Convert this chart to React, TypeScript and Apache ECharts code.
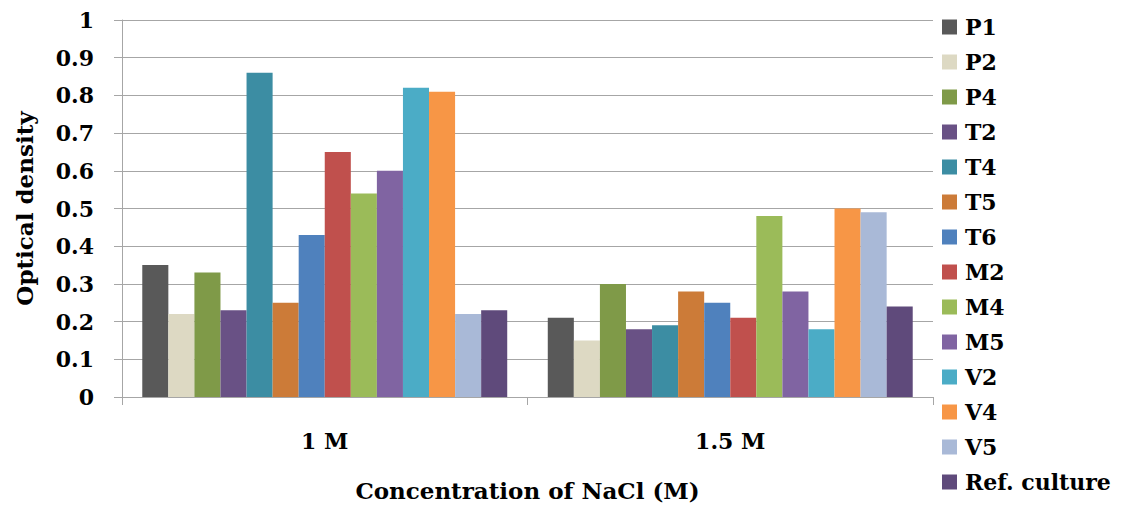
import React, { useEffect, useRef } from "react";
import * as echarts from "echarts";

const categories = ["1 M", "1.5 M"];
const seriesNames = ["P1", "P2", "P4", "T2", "T4", "T5", "T6", "M2", "M4", "M5", "V2", "V4", "V5", "Ref. culture"];
const values1M = [0.35, 0.22, 0.33, 0.23, 0.86, 0.25, 0.43, 0.65, 0.54, 0.6, 0.82, 0.81, 0.22, 0.23];
const values15M = [0.21, 0.15, 0.3, 0.18, 0.19, 0.28, 0.25, 0.21, 0.48, 0.28, 0.18, 0.5, 0.49, 0.24];
const colors = ["#595959", "#DDD9C3", "#7F9A48", "#695185", "#3C8DA3", "#CC7B38", "#4F81BD", "#C0504D", "#9BBB59", "#8064A2", "#4BACC6", "#F79646", "#A9B9D7", "#5F4A7B"];

const FONT = "DejaVu Serif";

export default function App() {
  const ref = useRef<HTMLDivElement>(null);
  useEffect(() => {
    document.body.style.margin = "0";
    const chart = echarts.init(ref.current!, null, { renderer: "svg" });
    chart.setOption({
      animation: false,
      backgroundColor: "#ffffff",
      textStyle: { fontFamily: FONT },
      grid: { left: 122, right: 194, top: 20, bottom: 113 },
      legend: {
        orient: "vertical",
        left: 942,
        top: 16,
        padding: 0,
        itemWidth: 15,
        itemHeight: 15,
        itemGap: 13,
        icon: "rect",
        textStyle: { fontFamily: FONT, fontWeight: "bold", fontSize: 22, color: "#000", lineHeight: 22, padding: [0, 0, 0, 3] },
        data: seriesNames,
      },
      xAxis: {
        type: "category",
        data: categories,
        axisLine: { lineStyle: { color: "#A6A6A6", width: 1 } },
        axisTick: { show: true, length: 8, lineStyle: { color: "#A6A6A6" } },
        axisLabel: { fontFamily: FONT, fontWeight: "bold", fontSize: 22, color: "#000", margin: 33 },
        name: "Concentration of NaCl (M)",
        nameLocation: "middle",
        nameGap: 82,
        nameTextStyle: { fontFamily: FONT, fontWeight: "bold", fontSize: 23, color: "#000" },
      },
      yAxis: {
        type: "value",
        min: 0,
        max: 1,
        interval: 0.1,
        axisLine: { show: true, lineStyle: { color: "#A6A6A6", width: 1 } },
        axisTick: { show: true, length: 8, lineStyle: { color: "#A6A6A6" } },
        splitLine: { lineStyle: { color: "#A6A6A6", width: 1 } },
        axisLabel: {
          fontFamily: FONT,
          fontWeight: "bold",
          fontSize: 22,
          color: "#000",
          margin: 28,
          formatter: (v: number) => String(Math.round(v * 10) / 10),
        },
        name: "Optical density",
        nameLocation: "middle",
        nameGap: 86,
        nameRotate: 90,
        nameTextStyle: { fontFamily: FONT, fontWeight: "bold", fontSize: 23, color: "#000" },
      },
      series: seriesNames.map((name, i) => ({
        name,
        type: "bar",
        data: [values1M[i], values15M[i]],
        itemStyle: { color: colors[i] },
        barGap: "0%",
        barCategoryGap: "10%",
      })),
    });
    return () => chart.dispose();
  }, []);
  return <div ref={ref} style={{ width: 1127, height: 510 }} />;
}
